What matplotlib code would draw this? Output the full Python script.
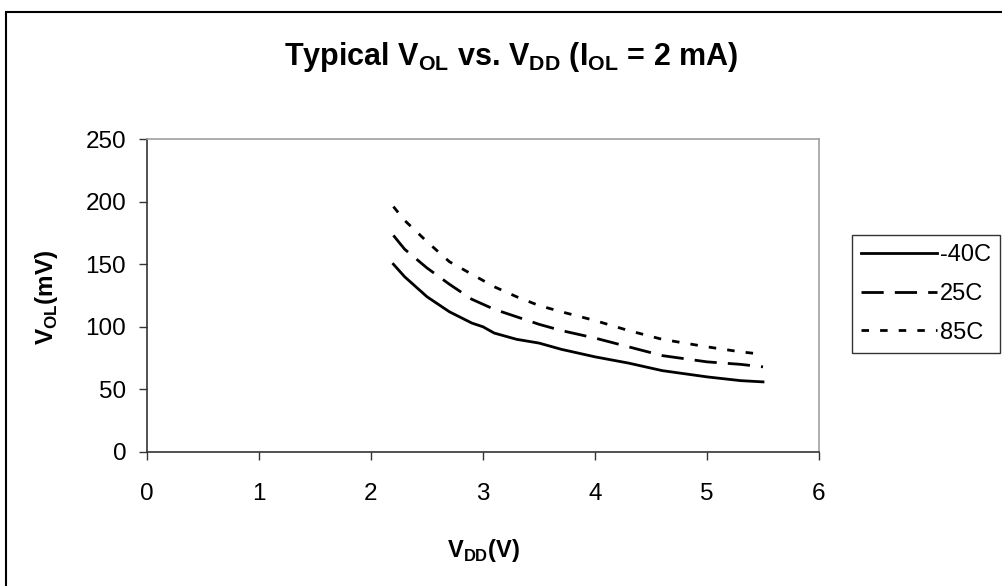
import matplotlib
matplotlib.use('Agg')
import matplotlib.pyplot as plt
from matplotlib.patches import Rectangle

plt.rcParams['font.family'] = ['Liberation Sans', 'DejaVu Sans']
plt.rcParams['mathtext.fontset'] = 'custom'
plt.rcParams['mathtext.rm'] = 'Liberation Sans'
plt.rcParams['mathtext.bf'] = 'Liberation Sans:bold'

# supply voltage (V)
vdd = [2.2, 2.3, 2.5, 2.7, 2.9, 3.0, 3.1, 3.3, 3.5, 3.7, 4.0, 4.3, 4.6, 5.0, 5.3, 5.5]

# VOL (mV) per temperature
vol_m40 = [150, 140, 124, 112, 103, 100, 95, 90, 87, 82, 76, 71, 65, 60, 57, 56]
vol_25 = [173, 162, 147, 134, 122, 118, 114, 108, 102, 97, 91, 84, 77, 72, 70, 68]
vol_85 = [196, 185, 168, 152, 142, 137, 132, 124, 117, 112, 105, 97, 90, 84, 80, 78]

labels = ['-40C', '25C', '85C']
x_ticks = [0, 1, 2, 3, 4, 5, 6]
y_ticks = [0, 50, 100, 150, 200, 250]

fig = plt.figure(figsize=(10.03, 5.86), dpi=100)
ax = fig.add_axes([147/1003, 1 - 452/586, (819 - 147)/1003, (452 - 139)/586])

ax.plot(vdd, vol_m40, color='black', lw=2, linestyle='-', label=labels[0])
ax.plot(vdd, vol_25, color='black', lw=2, linestyle=(0, (8, 4)), label=labels[1])
ax.plot(vdd, vol_85, color='black', lw=2, linestyle=(0, (2.7, 4)), label=labels[2])

ax.set_xlim(0, 6)
ax.set_ylim(0, 250)
ax.set_xticks(x_ticks)
ax.set_yticks(y_ticks)
ax.tick_params(direction='out', length=6, width=1, labelsize=17.5, color='#333333')
ax.tick_params(axis='x', pad=16)
ax.tick_params(axis='y', pad=9)

ax.spines['left'].set_color('#333333')
ax.spines['bottom'].set_color('#333333')
ax.spines['top'].set_color('#a0a0a0')
ax.spines['right'].set_color('#a0a0a0')
for s in ax.spines.values():
    s.set_linewidth(1.2)

fig.text(511/1003, 1 - 65/586,
         r'Typical V$_{\mathbf{OL}}$ vs. V$_{\mathbf{DD}}$ (I$_{\mathbf{OL}}$ = 2 mA)',
         ha='center', va='baseline', fontsize=22, fontweight='bold')
fig.text(483/1003, 1 - 550/586, r'V$_{\mathbf{DD}}$(V)',
         ha='center', va='center', fontsize=17, fontweight='bold')
fig.text(47/1003, 1 - 297/586, r'V$_{\mathbf{OL}}$(mV)',
         ha='center', va='center', fontsize=17.5, fontweight='bold', rotation=90)

leg = fig.legend(loc='upper left', bbox_to_anchor=(852/1003, 1 - 235/586),
                 fontsize=17, frameon=True, fancybox=False, shadow=False,
                 handlelength=3.2, handletextpad=0.12, borderpad=0.4,
                 labelspacing=0.7, borderaxespad=0)
leg.get_frame().set_edgecolor('black')
leg.get_frame().set_linewidth(1.0)

# chart area border
fig.patches.append(Rectangle((6/1003, -0.02), 1.1, (586 - 12)/586 + 0.02,
                             transform=fig.transFigure, fill=False,
                             edgecolor='black', lw=1.5))

fig.savefig('out.png', dpi=100)
